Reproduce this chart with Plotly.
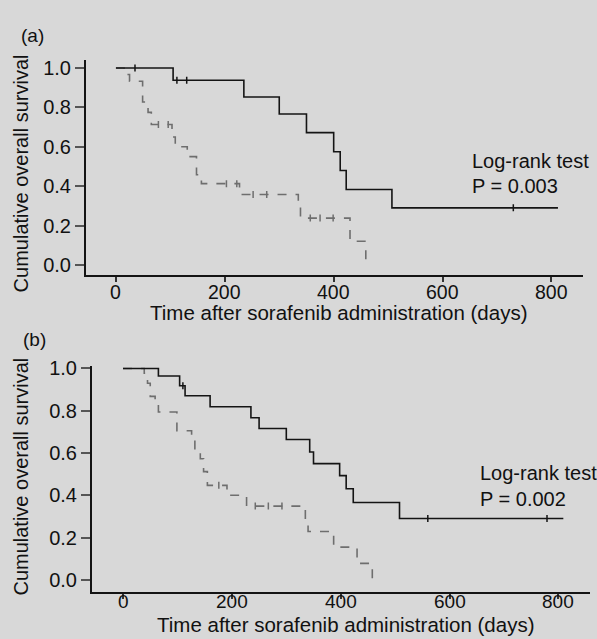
import plotly.graph_objects as go

W, H = 597, 639

# ---- data ----
a_solid_t = [0, 105, 235, 300, 350, 400, 412, 423, 507, 812]
a_solid_s = [1.0, 0.938, 0.853, 0.767, 0.672, 0.575, 0.48, 0.383, 0.29, 0.29]
a_dash_t = [0, 15, 25, 49, 59, 65, 103, 109, 131, 148, 157, 227, 335, 339, 430, 459]
a_dash_s = [1.0, 0.967, 0.933, 0.828, 0.775, 0.713, 0.65, 0.6, 0.55, 0.458, 0.413, 0.358, 0.30, 0.238, 0.12, 0.0]
a_solid_cens_t = [35, 112, 130, 730]
a_solid_cens_s = [1.0, 0.938, 0.938, 0.29]
a_dash_cens_t = [78, 96, 203, 222, 252, 277, 357, 375, 399]
a_dash_cens_s = [0.713, 0.713, 0.413, 0.413, 0.358, 0.358, 0.238, 0.238, 0.238]

b_solid_t = [0, 65, 104, 114, 160, 235, 250, 300, 343, 350, 398, 410, 423, 508, 809]
b_solid_s = [1.0, 0.964, 0.918, 0.871, 0.819, 0.767, 0.716, 0.664, 0.605, 0.55, 0.493, 0.431, 0.366, 0.29, 0.29]
b_dash_t = [0, 39, 45, 50, 59, 65, 99, 126, 132, 142, 148, 155, 191, 227, 335, 340, 387, 430, 458]
b_dash_s = [1.0, 0.977, 0.93, 0.868, 0.837, 0.794, 0.705, 0.674, 0.62, 0.573, 0.512, 0.447, 0.4, 0.349, 0.287, 0.229, 0.155, 0.078, 0.0]
b_solid_cens_t = [110, 560, 779]
b_solid_cens_s = [0.918, 0.29, 0.29]
b_dash_cens_t = [176, 243, 267, 292]
b_dash_cens_s = [0.447, 0.349, 0.349, 0.349]

x_ticks = [0, 200, 400, 600, 800]
x_ticktext = ["0", "200", "400", "600", "800"]
y_ticks = [0.0, 0.2, 0.4, 0.6, 0.8, 1.0]
y_ticktext = ["0.0", "0.2", "0.4", "0.6", "0.8", "1.0"]

FONT = "Liberation Sans, Arial, Helvetica, sans-serif"
BLACK = "#141414"
GREY = "#6e6e6e"
BG = "#d8d8d8"

fig = go.Figure()

def add_panel(xa, ya, st, ss, dt, ds, sct, scs, dct, dcs):
    fig.add_trace(go.Scatter(x=dt, y=ds, mode="lines", line=dict(color=GREY, width=1.6, dash="dash", shape="hv"),
                             xaxis=xa, yaxis=ya, showlegend=False, hoverinfo="skip"))
    fig.add_trace(go.Scatter(x=st, y=ss, mode="lines", line=dict(color=BLACK, width=1.6, shape="hv"),
                             xaxis=xa, yaxis=ya, showlegend=False, hoverinfo="skip"))
    fig.add_trace(go.Scatter(x=dct, y=dcs, mode="markers",
                             marker=dict(symbol="line-ns-open", size=5, color=GREY, line=dict(color=GREY, width=1.5)),
                             xaxis=xa, yaxis=ya, showlegend=False, hoverinfo="skip"))
    fig.add_trace(go.Scatter(x=sct, y=scs, mode="markers",
                             marker=dict(symbol="line-ns-open", size=5, color=BLACK, line=dict(color=BLACK, width=1.5)),
                             xaxis=xa, yaxis=ya, showlegend=False, hoverinfo="skip"))

add_panel("x", "y", a_solid_t, a_solid_s, a_dash_t, a_dash_s,
          a_solid_cens_t, a_solid_cens_s, a_dash_cens_t, a_dash_cens_s)
add_panel("x2", "y2", b_solid_t, b_solid_s, b_dash_t, b_dash_s,
          b_solid_cens_t, b_solid_cens_s, b_dash_cens_t, b_dash_cens_s)

def xaxis_cfg(domain, anchor, rng):
    return dict(domain=domain, anchor=anchor, range=rng, showline=True, linecolor=BLACK, linewidth=2,
                ticks="outside", ticklen=5, tickwidth=1.5, tickcolor="#333", showgrid=False, zeroline=False,
                tickvals=x_ticks, showticklabels=False)

def yaxis_cfg(domain, anchor, rng):
    return dict(domain=domain, anchor=anchor, range=rng, showline=True, linecolor=BLACK, linewidth=2,
                ticks="outside", ticklen=9, tickwidth=1.5, tickcolor="#555", showgrid=False, zeroline=False,
                tickvals=y_ticks, ticktext=y_ticktext, tickfont=dict(family=FONT, size=20, color="#111"))

def px(x):
    return x / W

def py(y):
    return 1 - y / H

ann = []
def text(x, y, t, xanchor="center", angle=0, size=20, xref="paper"):
    ann.append(dict(x=x if xref != "paper" else px(x), y=py(y), xref=xref, yref="paper", text=t,
                    showarrow=False, xanchor=xanchor, yanchor="middle", textangle=angle,
                    font=dict(family=FONT, size=size, color="#111")))

# x tick labels placed on the axis scale
for v, t in zip(x_ticks, x_ticktext):
    text(v, 287, t, xref="x", size=19.5)
    text(v, 602, t, xref="x2", size=19)

text(32, 27, "(a)", size=19)
text(34, 336, "(b)", size=19)
text(21, 167, "Cumulative overall survival", angle=-90)
text(21, 475, "Cumulative overall survival", angle=-90)
text(339, 308, "Time after sorafenib administration (days)", size=20.5)
text(346, 625.5, "Time after sorafenib administration (days)", size=20.5)
text(470, 154, "Log-rank test", xanchor="left")
text(470, 180, "P = 0.003", xanchor="left")
text(478, 471, "Log-rank test", xanchor="left")
text(478, 498, "P = 0.002", xanchor="left")

fig.update_layout(
    width=W, height=H,
    margin=dict(l=0, r=0, t=0, b=0),
    paper_bgcolor=BG, plot_bgcolor=BG,
    xaxis=xaxis_cfg([px(86), px(583)], "y", [-55, 858]),
    yaxis=yaxis_cfg([py(270), py(52)], "x", [-0.05, 1.04]),
    xaxis2=xaxis_cfg([px(92), px(590)], "y2", [-57, 858]),
    yaxis2=yaxis_cfg([py(592), py(363)], "x2", [-0.056, 1.01]),
    annotations=ann,
)

fig.write_html("out.html")
